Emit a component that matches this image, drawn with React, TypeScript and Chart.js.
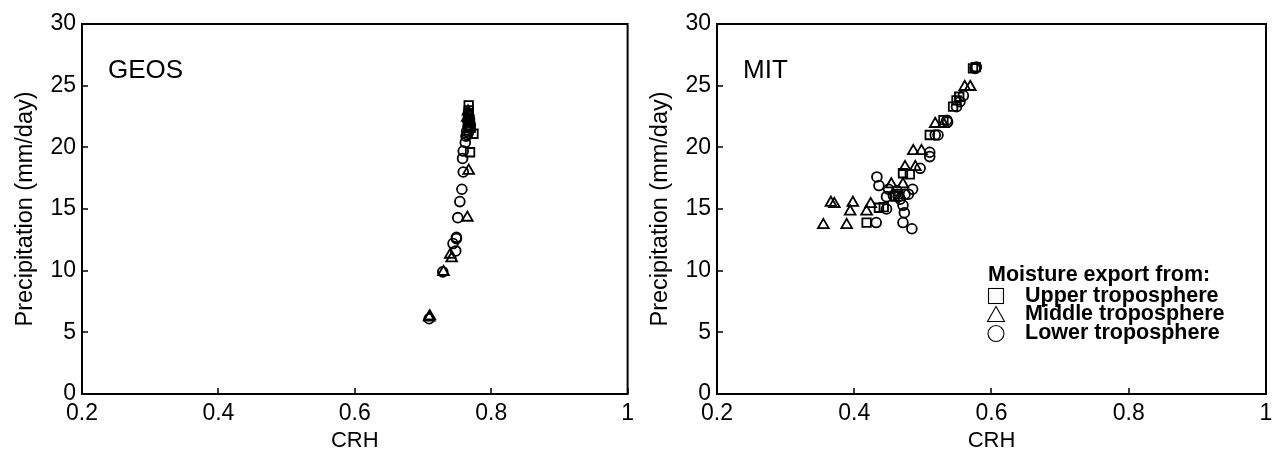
import React, { useEffect, useRef } from "react";
import { Chart, registerables } from "chart.js";
Chart.register(...registerables);

// ---------- data ----------
const xTickValues = [0.2, 0.4, 0.6, 0.8, 1];
const yTickValues = [0, 5, 10, 15, 20, 25, 30];

// GEOS
const geosUpperCRH = [0.767, 0.767, 0.766, 0.768, 0.768, 0.767, 0.774, 0.769, 0.769, 0.767, 0.770, 0.766];
const geosUpperPrecip = [23.4, 23.0, 22.6, 22.2, 21.8, 21.4, 21.1, 19.6, 22.0, 22.8, 21.6, 22.4];
const geosMiddleCRH = [0.766, 0.765, 0.767, 0.768, 0.767, 0.765, 0.740, 0.742, 0.730, 0.709, 0.710];
const geosMiddlePrecip = [22.9, 22.4, 21.5, 22.1, 18.1, 14.3, 11.3, 11.0, 9.9, 6.2, 6.3];
const geosLowerCRH = [0.766, 0.766, 0.764, 0.763, 0.762, 0.759, 0.758, 0.759, 0.757, 0.754, 0.751, 0.749, 0.749, 0.744, 0.748, 0.729, 0.709, 0.767, 0.765];
const geosLowerPrecip = [22.1, 21.7, 21.3, 20.9, 20.4, 19.7, 19.1, 18.0, 16.6, 15.6, 14.3, 12.7, 12.6, 12.2, 11.6, 9.9, 6.1, 22.5, 21.0];

// MIT
const mitUpperCRH = [0.418, 0.436, 0.443, 0.459, 0.464, 0.471, 0.481, 0.510, 0.530, 0.544, 0.549, 0.553, 0.573, 0.577];
const mitUpperPrecip = [13.9, 15.1, 15.15, 16.0, 16.2, 17.9, 17.8, 21.0, 22.2, 23.3, 23.8, 24.1, 26.4, 26.5];
const mitMiddleCRH = [0.355, 0.389, 0.366, 0.371, 0.398, 0.394, 0.418, 0.424, 0.454, 0.471, 0.474, 0.489, 0.486, 0.498, 0.518, 0.530, 0.561, 0.569];
const mitMiddlePrecip = [13.7, 13.7, 15.5, 15.4, 15.5, 14.8, 14.8, 15.4, 17.0, 17.0, 18.4, 18.4, 19.7, 19.7, 21.9, 21.9, 24.9, 24.9];
const mitLowerCRH = [0.433, 0.436, 0.432, 0.447, 0.450, 0.471, 0.484, 0.473, 0.471, 0.485, 0.479, 0.447, 0.457, 0.464, 0.462, 0.467, 0.474, 0.496, 0.510, 0.510, 0.518, 0.522, 0.535, 0.536, 0.549, 0.554, 0.559, 0.576, 0.578];
const mitLowerPrecip = [17.6, 16.9, 13.9, 15.0, 16.6, 13.9, 13.4, 14.7, 15.3, 16.6, 16.2, 16.0, 16.1, 16.0, 16.5, 15.8, 16.2, 18.3, 19.6, 19.25, 21.0, 21.0, 22.2, 22.05, 23.3, 23.7, 24.2, 26.4, 26.5];

const legendTitle = "Moisture export from:";
const legendLabels = ["Upper troposphere", "Middle troposphere", "Lower troposphere"];

const FONT = '"Liberation Sans", Arial, sans-serif';

function pts(xs: number[], ys: number[]) {
  return xs.map((x, i) => ({ x, y: ys[i] }));
}

function makeDatasets(ux: number[], uy: number[], mx: number[], my: number[], lx: number[], ly: number[]) {
  const base = {
    showLine: false,
    borderColor: "#000",
    backgroundColor: "rgba(0,0,0,0)",
    pointBorderWidth: 1.8,
  };
  return [
    { ...base, label: legendLabels[0], data: pts(ux, uy), pointStyle: "rect", pointRadius: 6 },
    { ...base, label: legendLabels[1], data: pts(mx, my), pointStyle: "triangle", pointRadius: 6.2 },
    { ...base, label: legendLabels[2], data: pts(lx, ly), pointStyle: "circle", pointRadius: 4.9 },
  ];
}

const framePlugin = {
  id: "frame",
  afterDraw(chart: any, _args: any, opts: any) {
    const { ctx, chartArea: a, scales } = chart;
    ctx.save();
    ctx.strokeStyle = "#000";
    ctx.lineWidth = 1.5;
    ctx.beginPath();
    for (const v of yTickValues) {
      const y = Math.round(scales.y.getPixelForValue(v));
      ctx.moveTo(a.left, y);
      ctx.lineTo(a.left + 6, y);
    }
    for (const v of xTickValues) {
      const x = Math.round(scales.x.getPixelForValue(v));
      ctx.moveTo(x, a.bottom);
      ctx.lineTo(x, a.bottom - 6);
    }
    ctx.stroke();
    ctx.lineWidth = 2;
    ctx.strokeRect(a.left, a.top, a.right - a.left, a.bottom - a.top);

    ctx.fillStyle = "#000";
    ctx.font = `26px ${FONT}`;
    ctx.textBaseline = "middle";
    ctx.textAlign = "left";
    ctx.fillText(opts.label, a.left + 26, a.top + 47);

    if (opts.legend) {
      const tx = a.right - 278;
      const ty = a.bottom - 119;
      ctx.font = `bold 21.5px ${FONT}`;
      ctx.fillText(legendTitle, tx, ty);
      const mx = tx + 8;
      const rows = [ty + 21, ty + 39.5, ty + 58.5];
      ctx.lineWidth = 1.1;
      // square
      ctx.strokeRect(mx - 7.5, rows[0] - 7.5, 15, 15);
      // triangle
      ctx.beginPath();
      ctx.moveTo(mx, rows[1] - 8);
      ctx.lineTo(mx + 8.5, rows[1] + 7);
      ctx.lineTo(mx - 8.5, rows[1] + 7);
      ctx.closePath();
      ctx.stroke();
      // circle
      ctx.beginPath();
      ctx.arc(mx, rows[2], 8, 0, Math.PI * 2);
      ctx.stroke();
      legendLabels.forEach((t, i) => ctx.fillText(t, tx + 37, rows[i]));
    }
    ctx.restore();
  },
};

function makeOptions(label: string, legend: boolean, yWidth: number, padRight: number) {
  return {
    animation: false,
    responsive: false,
    layout: { padding: { top: 24, right: padRight, left: 0, bottom: 0 } },
    plugins: {
      legend: { display: false },
      tooltip: { enabled: false },
      frame: { label, legend },
    },
    scales: {
      x: {
        type: "linear",
        min: 0.2,
        max: 1,
        afterFit: (s: any) => { s.height = 66; },
        afterBuildTicks: (s: any) => { s.ticks = xTickValues.map((v) => ({ value: v })); },
        grid: { display: false, drawTicks: false },
        border: { display: false },
        ticks: {
          color: "#000",
          padding: 6,
          font: { family: FONT, size: 23 },
          callback: (v: any) => String(Number(Number(v).toFixed(1))),
        },
        title: {
          display: true,
          text: "CRH",
          color: "#000",
          font: { family: FONT, size: 22 },
          padding: { top: 0, bottom: 6 },
        },
      },
      y: {
        type: "linear",
        min: 0,
        max: 30,
        afterFit: (s: any) => { s.width = yWidth; },
        afterBuildTicks: (s: any) => { s.ticks = yTickValues.map((v) => ({ value: v })); },
        grid: { display: false, drawTicks: false },
        border: { display: false },
        ticks: {
          color: "#000",
          padding: 6,
          font: { family: FONT, size: 23 },
        },
        title: {
          display: true,
          text: "Precipitation (mm/day)",
          color: "#000",
          font: { family: FONT, size: 23.5 },
          padding: { top: yWidth - 71, bottom: 0 },
        },
      },
    },
  };
}

function Panel(props: { label: string; legend: boolean; datasets: any[]; width: number; yWidth: number; padRight: number; left: number }) {
  const ref = useRef<HTMLCanvasElement>(null);
  useEffect(() => {
    const chart = new Chart(ref.current as HTMLCanvasElement, {
      type: "scatter",
      data: { datasets: props.datasets },
      options: makeOptions(props.label, props.legend, props.yWidth, props.padRight) as any,
      plugins: [framePlugin],
    });
    return () => chart.destroy();
  }, []);
  return (
    <div style={{ position: "absolute", left: props.left, top: 0, width: props.width, height: 460 }}>
      <canvas ref={ref} width={props.width} height={460} style={{ width: props.width, height: 460, display: "block" }} />
    </div>
  );
}

export default function App() {
  return (
    <div style={{ position: "fixed", left: 0, top: 0, width: 1279, height: 460, background: "#fff" }}>
      <Panel
        label="GEOS"
        legend={false}
        datasets={makeDatasets(geosUpperCRH, geosUpperPrecip, geosMiddleCRH, geosMiddlePrecip, geosLowerCRH, geosLowerPrecip)}
        width={640}
        yWidth={82}
        padRight={8}
        left={0}
      />
      <Panel
        label="MIT"
        legend={true}
        datasets={makeDatasets(mitUpperCRH, mitUpperPrecip, mitMiddleCRH, mitMiddlePrecip, mitLowerCRH, mitLowerPrecip)}
        width={639}
        yWidth={77}
        padRight={13}
        left={640}
      />
    </div>
  );
}
